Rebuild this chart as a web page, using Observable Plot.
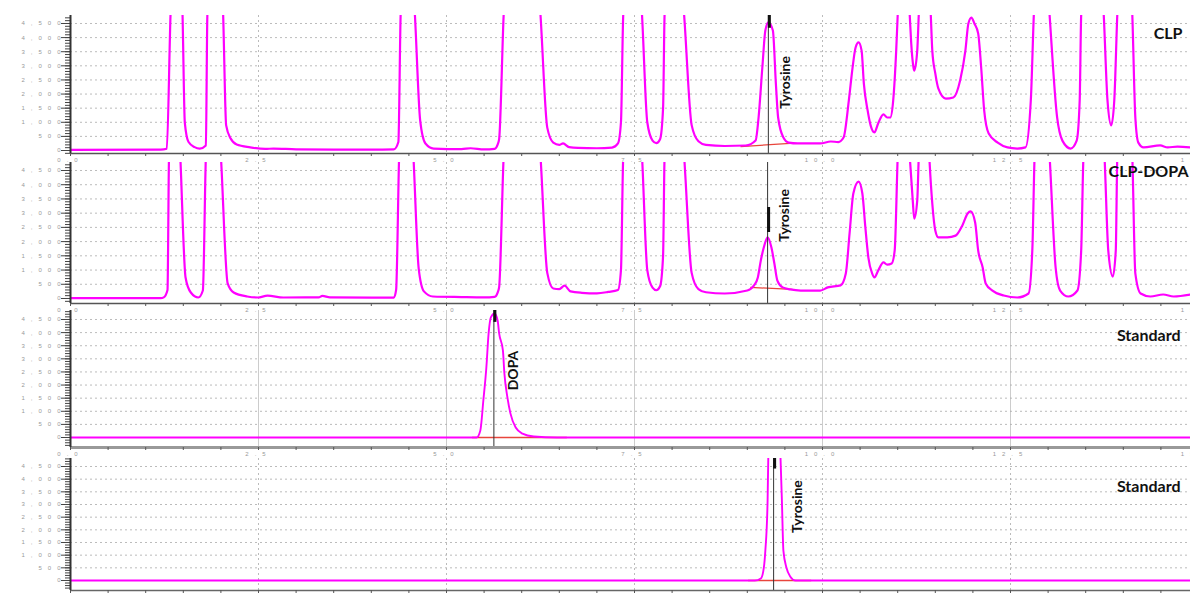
<!DOCTYPE html>
<html><head><meta charset="utf-8">
<script src="https://cdn.jsdelivr.net/npm/d3@7"></script>
<script src="https://cdn.jsdelivr.net/npm/@observablehq/plot@0.6"></script>
<style>
html,body{margin:0;padding:0;background:#fff;overflow:hidden;width:1190px;height:593px}
#chart{width:1200px}
#chart svg{display:block;overflow:visible;max-width:none !important}
g[aria-label="y-axis tick label"] text, g[aria-label="x-axis tick label"] text{letter-spacing:6px}
</style></head><body><div id="chart"></div>
<script>
// ---- axis ticks ----
const xMajorTicks = [0, 2.5, 5, 7.5, 10, 12.5, 15];
const xMinorTicks = d3.range(0, 15.001, 0.5);
const xGridTicks = [2.5, 5, 7.5, 10, 12.5];
const yTicks = [0, 500, 1000, 1500, 2000, 2500, 3000, 3500, 4000, 4500];
const yMinorTicks = d3.range(-400, 4900, 100);

// ---- panel names ----
const sampleNames = ["CLP", "CLP-DOPA", "Standard", "Standard"];
const peakNames = ["Tyrosine", "Tyrosine", "DOPA", "Tyrosine"];
const peakTimes = [9.28, 9.27, 5.63, 9.35];
const peakLabelSignal = [2410, 2920, 2555, 2920];
const peakMarkLow = [4330, 2320, 4390, 4400];
const peakMarkHigh = [4800, 3200, 4850, 4820];

// ---- integration baselines ----
const baseStartTime = [8.91, 9.04, 5.34, 9.01];
const baseEndTime = [9.57, 9.60, 6.60, 9.85];
const baseStartSignal = [140, 390, 0, 0];
const baseEndSignal = [250, 320, 0, 0];

// ---- traces (retention time, min / signal) ----
const clpTime = [0,1.20,1.28,1.33,1.41,1.49,1.52,1.57,1.65,1.72,1.80,1.82,1.93,2.03,2.07,2.13,2.21,2.39,2.59,2.70,3.00,3.50,4.00,4.30,4.36,4.39,4.48,4.58,4.65,4.72,4.83,5.20,5.32,5.50,5.64,5.68,5.70,5.76,6.00,6.25,6.34,6.42,6.50,6.55,6.63,6.75,7.00,7.20,7.28,7.32,7.35,7.48,7.60,7.67,7.74,7.79,7.84,7.88,7.90,8.03,8.16,8.26,8.35,8.45,8.70,8.98,9.11,9.15,9.20,9.24,9.28,9.34,9.38,9.41,9.48,9.55,9.67,9.97,10.11,10.21,10.28,10.35,10.40,10.44,10.48,10.52,10.55,10.60,10.64,10.69,10.74,10.81,10.86,10.90,10.94,10.98,11.00,11.08,11.16,11.18,11.21,11.22,11.26,11.28,11.36,11.44,11.46,11.50,11.54,11.64,11.74,11.83,11.90,11.94,11.98,12.02,12.07,12.11,12.15,12.21,12.33,12.46,12.59,12.70,12.77,12.81,12.92,13.02,13.12,13.19,13.30,13.38,13.42,13.44,13.58,13.74,13.79,13.84,13.88,13.92,14.02,14.12,14.16,14.20,14.27,14.49,14.59,14.72,14.90];
const clpSignal = [20,30,60,4800,9000,4800,990,300,120,70,180,4800,9000,4800,890,425,210,110,55,70,40,30,30,40,300,4800,9000,4800,1060,250,70,50,80,40,60,210,400,4800,12000,4800,810,280,200,250,120,90,80,100,250,1000,4800,9000,4800,1000,350,260,400,1500,4800,9000,4800,900,330,200,160,177,354,1170,2940,4250,4540,4250,2370,1170,460,280,250,250,320,300,460,1770,2940,3650,3830,3540,2370,1420,890,640,960,1280,1170,1170,1770,3540,4800,9000,4800,3790,2940,2830,3540,4800,9000,4800,3540,2730,2200,1840,1880,2480,3540,4500,4710,4500,4150,2940,1420,600,280,110,70,110,1770,4800,9000,4800,1170,350,70,350,1770,4800,9000,4800,1770,890,1770,4800,9000,4800,1170,280,110,180,110,140,110];

const clpDopaTime = [0,1.20,1.24,1.29,1.31,1.39,1.46,1.53,1.60,1.70,1.76,1.80,1.90,2.00,2.09,2.17,2.35,2.49,2.62,2.83,3.30,3.35,3.45,4.30,4.33,4.37,4.46,4.56,4.63,4.70,4.82,5.20,5.50,5.64,5.68,5.70,5.76,6.00,6.25,6.34,6.42,6.50,6.57,6.65,6.80,7.00,7.15,7.28,7.32,7.35,7.48,7.60,7.67,7.74,7.79,7.84,7.88,7.90,8.03,8.16,8.26,8.35,8.45,8.70,9.00,9.09,9.14,9.18,9.22,9.27,9.32,9.36,9.40,9.47,9.57,9.71,9.97,10.07,10.24,10.31,10.36,10.41,10.48,10.53,10.57,10.61,10.66,10.69,10.74,10.81,10.86,10.92,10.96,11.00,11.08,11.16,11.20,11.22,11.26,11.28,11.36,11.42,11.46,11.50,11.54,11.66,11.77,11.86,11.93,11.97,12.03,12.07,12.13,12.17,12.26,12.41,12.59,12.74,12.79,12.82,12.92,13.02,13.10,13.16,13.27,13.39,13.44,13.47,13.60,13.75,13.80,13.86,13.90,13.92,14.02,14.12,14.16,14.23,14.36,14.53,14.67,14.90];
const clpDopaSignal = [10,10,40,300,5000,9000,5000,740,210,35,280,5000,9000,5000,530,210,70,35,100,35,40,90,40,30,300,5000,9000,5000,1060,250,70,50,40,60,210,400,5000,12000,5000,900,350,330,450,250,200,180,230,300,1000,5000,9000,5000,1000,380,290,430,1500,5000,9000,5000,900,330,220,175,280,460,740,1340,1800,2150,1800,1230,630,390,320,280,280,390,460,880,2290,3690,4110,3690,2500,1440,880,740,980,1270,1190,1230,1690,5000,9000,5000,3450,2810,3450,5000,9000,5000,3340,2390,2150,2150,2210,2570,2990,3060,2670,1690,1090,530,280,105,35,175,1690,5000,9000,5000,1090,280,70,280,1690,5000,9000,5000,1690,770,1690,5000,9000,5000,880,175,70,140,70,140];

const dopaStdTime = [0,5.40,5.45,5.49,5.53,5.56,5.59,5.64,5.68,5.70,5.75,5.77,5.81,5.85,5.92,6.01,6.16,6.47,15];
const dopaStdSignal = [0,0,270,1410,2670,3970,4580,4730,4460,3970,3320,2440,1530,920,380,150,40,0,0];

const tyrStdTime = [0,9.10,9.18,9.22,9.24,9.27,9.28,9.36,9.44,9.46,9.48,9.52,9.57,9.64,15];
const tyrStdSignal = [0,0,80,510,1180,3160,5000,9000,5000,3160,1180,510,160,0,0];

const traceTimes = [clpTime, clpDopaTime, dopaStdTime, tyrStdTime];
const traceSignals = [clpSignal, clpDopaSignal, dopaStdSignal, tyrStdSignal];

// ---- layout (screen geometry only) ----
const layout = [
  {height:160, marginTop:15, marginBottom:7, yDomain:[-106,4783], nameDx:-16, nameDy:18, peakDx:17, axisStroke:"#555", axisWidth:1.5, gridDash:"2,3", lineWidth:2.2},
  {height:148, marginTop:2, marginBottom:5, yDomain:[-176,4781], nameDx:-10, nameDy:9, peakDx:17, axisStroke:"#555", axisWidth:1.5, gridDash:"2,3", lineWidth:2.2},
  {height:147, marginTop:2, marginBottom:8, yDomain:[-381,4843], nameDx:-18, nameDy:25, peakDx:20, axisStroke:"#999", axisWidth:3, gridDash:null, lineWidth:1.9},
  {height:138, marginTop:3, marginBottom:3, yDomain:[-395,4816], nameDx:-18, nameDy:28, peakDx:24, axisStroke:"#666", axisWidth:1.5, gridDash:"2,3", lineWidth:1.9}
];

const magenta = "#ff00ff";

function panel(i) {
  const L = layout[i];
  const trace = traceTimes[i].map((t, j) => ({t, v: traceSignals[i][j]}));
  const minor = yMinorTicks.filter(d => d >= L.yDomain[0] && d <= L.yDomain[1]);
  return Plot.plot({
    width: 1200, height: L.height,
    marginLeft: 70, marginRight: 2, marginTop: L.marginTop, marginBottom: L.marginBottom,
    x: {domain: [0, 15], label: null},
    y: {domain: L.yDomain, label: null},
    style: {background: "white", overflow: "visible"},
    marks: [
      Plot.gridY(yTicks.filter(d => d > 0), {stroke: "#aaa", strokeOpacity: 0.8, strokeDasharray: "2,3"}),
      Plot.gridX(xGridTicks, {stroke: "#aaa", strokeOpacity: L.gridDash ? 0.8 : 0.6, strokeDasharray: L.gridDash}),
      Plot.link([0], {x1: () => baseStartTime[i], y1: () => baseStartSignal[i], x2: () => baseEndTime[i], y2: () => baseEndSignal[i], stroke: "#e8453c", strokeWidth: 1.3}),
      Plot.line(trace, {x: "t", y: "v", stroke: magenta, strokeWidth: L.lineWidth, curve: "monotone-x", clip: true}),
      Plot.ruleX([peakTimes[i]], {y1: L.yDomain[0], y2: L.yDomain[1], stroke: "#333", strokeWidth: 1}),
      Plot.ruleX([peakTimes[i]], {y1: peakMarkLow[i], y2: Math.min(peakMarkHigh[i], L.yDomain[1]), stroke: "#111", strokeWidth: 3, dx: 1}),
      Plot.ruleY([L.yDomain[0]], {stroke: L.axisStroke, strokeWidth: L.axisWidth}),
      Plot.axisX(xMinorTicks, {tickSize: 3, tickFormat: () => "", stroke: "#555", label: null}),
      Plot.axisX(xMajorTicks, {tickSize: 3, tickPadding: 1, fontSize: 6, fill: "#999", stroke: "#555", fontFamily: "Liberation Sans", tickFormat: d3.format(".1f"), label: null}),
      Plot.axisY(minor, {tickSize: 5, tickFormat: () => "", stroke: "#444", label: null}),
      Plot.axisY(yTicks, {tickSize: 9, tickPadding: -5, fontSize: 6, fill: "#999", stroke: "#444", fontFamily: "Liberation Sans", label: null}),
      Plot.ruleX([0], {stroke: "#333", strokeWidth: 2}),
      Plot.text([sampleNames[i]], {frameAnchor: "top-right", textAnchor: "end", lineAnchor: "middle", dx: L.nameDx, dy: L.nameDy, fontSize: 16, fontWeight: "bold", fontFamily: "Lato", fill: "#111"}),
      Plot.text([{t: peakTimes[i], v: peakLabelSignal[i], name: peakNames[i]}], {x: "t", y: "v", text: "name", rotate: -90, dx: L.peakDx, textAnchor: "middle", lineAnchor: "middle", fontSize: 14, fontWeight: "bold", fontFamily: "Lato", fill: "#111"})
    ]
  });
}

const chart = document.getElementById("chart");
for (let i = 0; i < 4; i++) chart.appendChild(panel(i));
</script>
</body></html>
